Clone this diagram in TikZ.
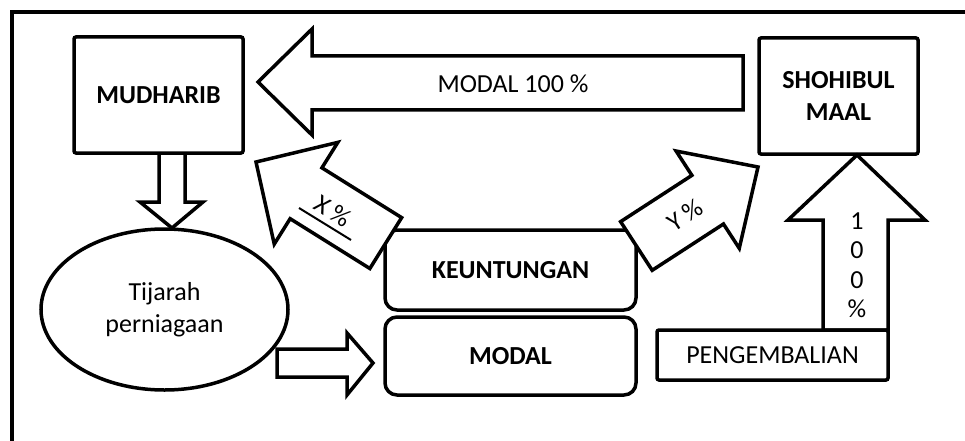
\documentclass[tikz,border=0pt]{standalone}
\usepackage{fontspec}
\setmainfont{Carlito}
\usepackage{tikz}
\usetikzlibrary{shapes.geometric}

\begin{document}
\begin{tikzpicture}[x=1pt,y=-1pt]
    \tikzstyle{every node} = [font=\fontsize{26}{32}\selectfont]
    \tikzstyle{box} = [draw,line width=3.5pt,fill=white,rounded corners=2pt,inner sep=0pt,
                       align=center,font=\fontsize{26}{32}\selectfont\bfseries]
    \tikzstyle{roundbox} = [box,rounded corners=12pt]
    \tikzstyle{blockarrow} = [draw,line width=3.5pt,fill=white,line join=miter]
    \useasboundingbox (0,0) rectangle (965,441);

    % frame
    \draw[line width=3.5pt] (12,441) -- (12,12) -- (965,12);

    % modal 100 % from shohibul maal to mudharib
    \draw[blockarrow] (743,56) -- (312,56) -- (312,29) -- (258,82) -- (312,135)
        -- (312,110) -- (743,110) -- cycle;
    \node (modal100) at (513,84) {MODAL 100 \%};

    % mudharib down to tijarah
    \draw[blockarrow] (159,150) -- (159,202) -- (140,202) -- (172,228) -- (203,202)
        -- (185,202) -- (185,150) -- cycle;

    \node[box,minimum width=169pt,minimum height=116pt] (mudharib) at (158.5,95) {MUDHARIB};
    \node[box,minimum width=159pt,minimum height=116pt] (shohibul) at (838.5,96) {SHOHIBUL\\MAAL};

    \node[ellipse,draw,line width=3.5pt,fill=white,inner sep=0pt,align=center,
          minimum width=247pt,minimum height=161pt] (tijarah) at (164.5,309.5) {Tijarah\\perniagaan};

    % tijarah to modal
    \draw[blockarrow] (277,349) -- (347,349) -- (347,333) -- (373,363) -- (347,395)
        -- (347,377) -- (277,377) -- cycle;

    \node[roundbox,minimum width=251pt,minimum height=80pt] (untung) at (510.5,270) {KEUNTUNGAN};
    \node[roundbox,minimum width=251pt,minimum height=78pt] (modal) at (510.5,356) {MODAL};

    % x % back to mudharib
    \begin{scope}[shift={(256,162)},rotate=-32]
        \draw[blockarrow] (0,0) -- (59,-60) -- (59,-30) -- (153,-30) -- (153,30)
            -- (59,30) -- (59,60) -- cycle;
    \end{scope}
    \node[rotate=-32] (xpct) at (333,211) {X \%};
    \draw[line width=2pt] (299,208) -- (351,240);

    % y % to shohibul maal
    \begin{scope}[shift={(758,167)},rotate=-147]
        \draw[blockarrow] (0,0) -- (60,-58) -- (60,-29) -- (145,-29) -- (145,29)
            -- (60,29) -- (60,58) -- cycle;
    \end{scope}
    \node[rotate=33] (ypct) at (685,215) {Y \%};

    % pengembalian up to shohibul maal
    \draw[blockarrow] (823,330) -- (823,220) -- (788,220) -- (857,155) -- (925,220)
        -- (888,220) -- (888,330) -- cycle;
    \node[align=center,font=\fontsize{26}{29.5}\selectfont] (pct100) at (857,265) {1\\0\\0\\\%};

    \node[box,font=\fontsize{26}{32}\selectfont,minimum width=231pt,minimum height=50pt] (kembali)
        at (772.5,355) {PENGEMBALIAN};
\end{tikzpicture}
\end{document}
